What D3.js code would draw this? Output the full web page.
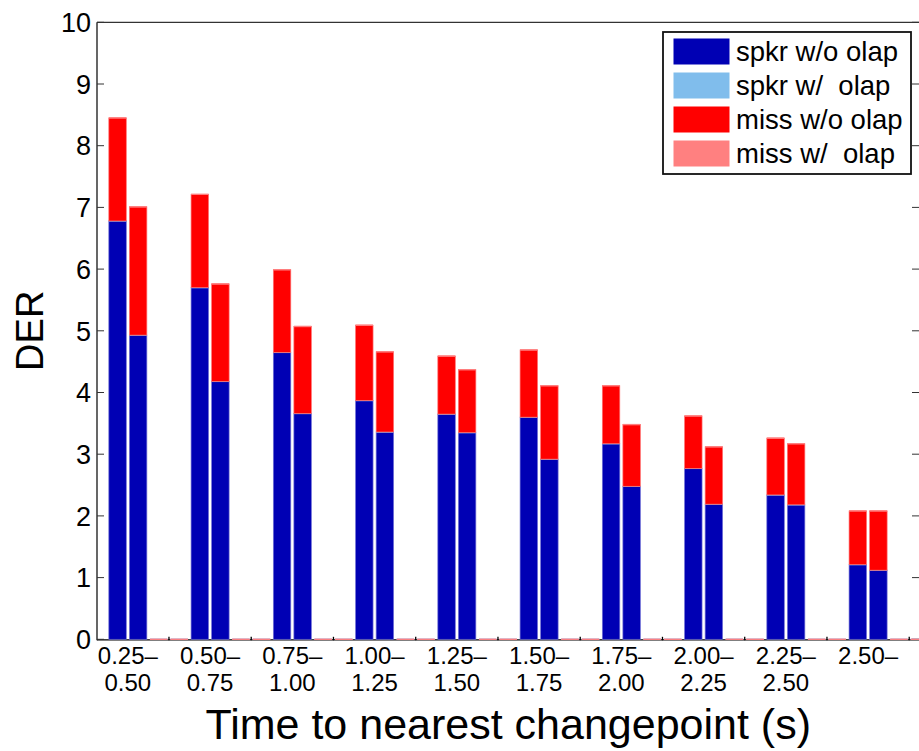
<!DOCTYPE html>
<html>
<head>
<meta charset="utf-8">
<script src="https://cdn.jsdelivr.net/npm/d3@7"></script>
<style>
  html, body { margin: 0; padding: 0; background: #fff; }
  svg { display: block; font-family: "Liberation Sans", Arial, Helvetica, sans-serif; }
</style>
</head>
<body>
<svg id="chart" width="919" height="751"></svg>
<script>
// Interval labels (two lines each)
const binTop    = ["0.25–", "0.50–", "0.75–", "1.00–", "1.25–", "1.50–", "1.75–", "2.00–", "2.25–", "2.50–"];
const binBottom = ["0.50", "0.75", "1.00", "1.25", "1.50", "1.75", "2.00", "2.25", "2.50", ""];

// First system (left bar in each group)
const spkrNoOlapA = [6.78, 5.70, 4.65, 3.87, 3.65, 3.60, 3.17, 2.77, 2.34, 1.21];
const spkrOlapA   = [0, 0, 0, 0, 0, 0, 0, 0, 0, 0];
const missNoOlapA = [1.67, 1.51, 1.34, 1.22, 0.94, 1.09, 0.94, 0.85, 0.92, 0.87];
const missOlapA   = [0, 0, 0, 0, 0, 0, 0, 0, 0, 0];

// Second system (right bar in each group)
const spkrNoOlapB = [4.93, 4.18, 3.66, 3.36, 3.35, 2.92, 2.48, 2.19, 2.18, 1.12];
const spkrOlapB   = [0, 0, 0, 0, 0, 0, 0, 0, 0, 0];
const missNoOlapB = [2.08, 1.58, 1.41, 1.30, 1.02, 1.19, 1.00, 0.93, 0.99, 0.96];
const missOlapB   = [0, 0, 0, 0, 0, 0, 0, 0, 0, 0];

// Remaining (empty) bar slots in each group
const emptySlot = [0, 0, 0, 0, 0, 0, 0, 0, 0, 0];

const seriesNames  = ["spkr w/o olap", "spkr w/  olap", "miss w/o olap", "miss w/  olap"];
const seriesColors = ["#0000b4", "#80bdec", "#ff0000", "#ff8080"];
const yTicks = [0, 1, 2, 3, 4, 5, 6, 7, 8, 9, 10];

// Build bars: 4 slots per group, each slot a stack of the four series
const slotSeries = [
  [spkrNoOlapA, spkrOlapA, missNoOlapA, missOlapA],
  [spkrNoOlapB, spkrOlapB, missNoOlapB, missOlapB],
  [emptySlot, emptySlot, emptySlot, emptySlot],
  [emptySlot, emptySlot, emptySlot, emptySlot]
];
const bars = [];
binTop.forEach((_, g) => {
  slotSeries.forEach((ser, k) => {
    let base = 0;
    const segs = ser.map((arr, s) => {
      const seg = { s, y0: base, y1: base + arr[g] };
      base += arr[g];
      return seg;
    });
    bars.push({ slot: g * 4 + k, segs });
  });
});

const svg = d3.select("#chart");
const pLeft = 97, pRight = 919.5, pTop = 22.3, pBottom = 639.3;

const x = d3.scaleLinear().domain([-1, 39]).range([pLeft, pRight]);
const y = d3.scaleLinear().domain([0, 10]).range([pBottom, pTop]);
const barW = (x(1) - x(0)) * 0.85;

svg.append("defs").append("clipPath").attr("id", "plotClip")
  .append("rect").attr("x", pLeft).attr("y", pTop - 2)
  .attr("width", pRight - pLeft).attr("height", pBottom - pTop + 4);

// Axes box (drawn first so zero-height bar edges sit on top of the baseline)
const axisG = svg.append("g").attr("stroke", "#000").attr("fill", "none");
axisG.append("line").attr("x1", pLeft).attr("x2", pRight).attr("y1", pTop).attr("y2", pTop).attr("stroke-width", 1);
axisG.append("line").attr("x1", pLeft).attr("x2", pLeft).attr("y1", pTop).attr("y2", pBottom + 1).attr("stroke-width", 1.2);
axisG.append("line").attr("x1", pRight).attr("x2", pRight).attr("y1", pTop).attr("y2", pBottom).attr("stroke-width", 1);
axisG.append("line").attr("x1", pLeft).attr("x2", pRight).attr("y1", pBottom + 0.5).attr("y2", pBottom + 0.5)
  .attr("stroke-width", 1.2);

const plot = svg.append("g").attr("clip-path", "url(#plotClip)");

// Stacked segments
bars.forEach(b => {
  const g = plot.append("g");
  b.segs.forEach(seg => {
    const h = y(seg.y0) - y(seg.y1);
    if (h > 0) {
      g.append("rect")
        .attr("x", x(b.slot) - barW / 2)
        .attr("y", y(seg.y1))
        .attr("width", barW)
        .attr("height", h)
        .attr("fill", seriesColors[seg.s])
        .attr("stroke", d3.interpolateRgb(seriesColors[seg.s], "#ffffff")(0.45))
        .attr("stroke-width", 0.7);
    }
    // segment top edge
    g.append("line")
      .attr("x1", x(b.slot) - barW / 2)
      .attr("x2", x(b.slot) + barW / 2)
      .attr("y1", y(seg.y1))
      .attr("y2", y(seg.y1))
      .attr("stroke", seg.s % 2 === 1 ? seriesColors[seg.s]
                                      : d3.interpolateRgb(seriesColors[seg.s], "#ffffff")(0.45))
      .attr("stroke-width", 1.3)
      .attr("stroke-opacity", seg.s % 2 === 1 ? 0.85 : 0.8);
  });
});

// Y ticks (left and right, inward)
yTicks.forEach(t => {
  axisG.append("line").attr("x1", pLeft).attr("x2", pLeft + 7)
    .attr("y1", y(t)).attr("y2", y(t)).attr("stroke", "#333").attr("stroke-width", 1);
  axisG.append("line").attr("x1", pRight - 7.5).attr("x2", pRight)
    .attr("y1", y(t)).attr("y2", y(t)).attr("stroke", "#333").attr("stroke-width", 1);
});
svg.append("g").selectAll("text").data(yTicks).join("text")
  .attr("x", pLeft - 6)
  .attr("y", d => y(d))
  .attr("dy", "0.36em")
  .attr("text-anchor", "end")
  .attr("font-size", 27)
  .attr("fill", "#000")
  .text(d => d);

// X ticks between slot pairs, small and inward
const tickG = svg.append("g").attr("stroke", "#000");
binTop.forEach((_, g) => {
  const tx = x(g * 4 + 2.5);
  if (tx > pLeft && tx < pRight) {
    tickG.append("line").attr("x1", tx).attr("x2", tx)
      .attr("y1", pBottom + 1).attr("y2", pBottom - 2.5).attr("stroke-width", 1.3);
  }
});

// X tick labels
const xl = svg.append("g").attr("font-size", 24).attr("fill", "#000").attr("text-anchor", "middle");
binTop.forEach((t, g) => {
  const cx = x(g * 4 + 0.5);
  xl.append("text").attr("x", cx).attr("y", 664).text(t);
  xl.append("text").attr("x", cx).attr("y", 691).text(binBottom[g]);
});

// Axis titles
svg.append("text")
  .attr("x", (pLeft + pRight) / 2).attr("y", 739)
  .attr("text-anchor", "middle").attr("font-size", 43)
  .text("Time to nearest changepoint (s)");
svg.append("text")
  .attr("transform", `translate(43,${(pTop + pBottom) / 2}) rotate(-90)`)
  .attr("text-anchor", "middle").attr("font-size", 38)
  .text("DER");

// Legend
const lg = svg.append("g").attr("transform", "translate(663,32)");
lg.append("rect").attr("x", 0).attr("y", 0).attr("width", 248).attr("height", 142)
  .attr("fill", "#fff").attr("stroke", "#111").attr("stroke-width", 1.8);
seriesNames.forEach((name, i) => {
  lg.append("rect").attr("x", 10.5).attr("y", 6.5 + i * 34).attr("width", 56).attr("height", 26)
    .attr("fill", seriesColors[i]);
  lg.append("text").attr("x", 73).attr("y", 29 + i * 34)
    .attr("font-size", 27.5).attr("fill", "#000")
    .attr("xml:space", "preserve")
    .style("white-space", "pre")
    .text(name);
});
</script>
</body>
</html>
